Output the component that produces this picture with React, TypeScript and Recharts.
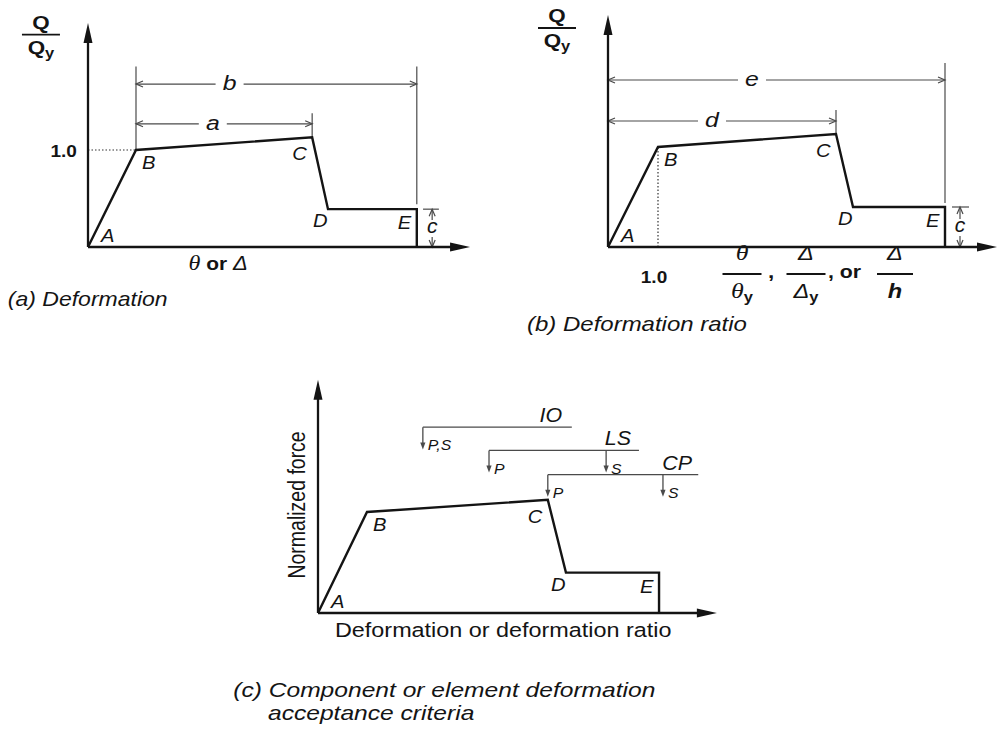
import React from 'react';
import { LineChart, Line, XAxis, YAxis, ReferenceLine, ReferenceDot } from 'recharts';

const SANS = '"Liberation Sans", Arial, Helvetica, sans-serif';
const SERIF = '"Liberation Serif", "Times New Roman", serif';
const INK = '#141414';
const DIM = '#4a4a4a';
const SX = 1.18;

// ---------------- data ----------------
const pointNames = ['A', 'B', 'C', 'D', 'E'];

const backboneA = [
  { x: 0, y: 0 }, { x: 1, y: 1 }, { x: 4.67, y: 1.13 }, { x: 5.0, y: 0.39 }, { x: 6.85, y: 0.39 }, { x: 6.85, y: 0 },
];
const backboneB = [
  { x: 0, y: 0 }, { x: 1, y: 1 }, { x: 4.56, y: 1.13 }, { x: 4.9, y: 0.4 }, { x: 6.74, y: 0.4 }, { x: 6.74, y: 0 },
];
const backboneC = [
  { x: 0, y: 0 }, { x: 1, y: 1 }, { x: 4.69, y: 1.12 }, { x: 5.06, y: 0.4 }, { x: 6.96, y: 0.4 }, { x: 6.96, y: 0 },
];

const dimsA = [
  { label: 'a', from: 1, to: 4.67, level: 1.27, at: 2.6 },
  { label: 'b', from: 1, to: 6.85, level: 1.68, at: 2.95 },
];
const dimsB = [
  { label: 'd', from: 0, to: 4.56, level: 1.26, at: 2.08 },
  { label: 'e', from: 0, to: 6.74, level: 1.67, at: 2.88 },
];
const extA = [
  { x: 1, from: 1, to: 1.86 },
  { x: 4.67, from: 1.13, to: 1.38 },
  { x: 6.85, from: 0.44, to: 1.86 },
];
const extB = [
  { x: 4.56, from: 1.13, to: 1.37 },
  { x: 6.74, from: 0.44, to: 1.84 },
];
const residualA = { x: 7.17, tickFrom: 6.98, tickTo: 7.31, level: 0.39 };
const residualB = { x: 7.04, tickFrom: 6.88, tickTo: 7.22, level: 0.4 };

const axisA = { x: 7.96, y: 2.31 };
const axisB = { x: 7.78, y: 2.32 };
const axisC = { x: 8.14, y: 2.31 };
const yieldValue = 1.0;

const limitNames = ['IO', 'LS', 'CP'];
const limitLevels = [1.84, 1.61, 1.37];
const limitFrom = [2.14, 3.49, 4.69];
const limitTo = [5.18, 6.55, 7.76];
const limitArrows = [
  [{ x: 2.14, tag: 'P,S' }],
  [{ x: 3.49, tag: 'P' }, { x: 5.88, tag: 'S' }],
  [{ x: 4.69, tag: 'P' }, { x: 7.04, tag: 'S' }],
];
const arrowDrop = 0.22;

// ---------------- layout ----------------
const BOX_A = { left: 0, top: 0, width: 490, height: 330, ox: 88, oy: 247, ux: 48, uy: 97 };
const BOX_B = { left: 495, top: 0, width: 503, height: 345, ox: 608, oy: 247, ux: 50, uy: 100 };
const BOX_C = { left: 200, top: 360, width: 560, height: 373, ox: 318, oy: 613, ux: 49, uy: 101 };
const LABEL_OFFSETS = [
  [13, -5], [6, 19], [-20, 23], [-15, 18], [-19, 20],
];

// ---------------- shapes ----------------
const axisShape = (p: any) => {
  const { x1, y1, x2, y2 } = p;
  const dx = x2 - x1, dy = y2 - y1;
  const L = Math.hypot(dx, dy) || 1;
  const ux = dx / L, uy = dy / L;
  const len = 20, hw = 4.5;
  const bx = x2 - ux * len, by = y2 - uy * len;
  return (
    <g>
      <line x1={x1} y1={y1} x2={bx + ux * 2} y2={by + uy * 2} stroke={INK} strokeWidth={2.3} />
      <polygon points={`${x2},${y2} ${bx - uy * hw},${by + ux * hw} ${bx + uy * hw},${by - ux * hw}`} fill={INK} />
    </g>
  );
};

const openHead = (x: number, y: number, dx: number, dy: number) => {
  const len = 7, hw = 3;
  const bx = x - dx * len, by = y - dy * len;
  return (
    <path d={`M${bx - dy * hw},${by + dx * hw} L${x},${y} L${bx + dy * hw},${by - dx * hw}`} fill="none" stroke={DIM} strokeWidth={1.2} />
  );
};

const dimShape = (label: string, t: number, gap: number) => (p: any) => {
  const { x1, y1, x2 } = p;
  const l = Math.min(x1, x2), r = Math.max(x1, x2);
  const cx = l + t * (r - l);
  return (
    <g>
      <line x1={l} y1={y1} x2={cx - gap / 2} y2={y1} stroke={DIM} strokeWidth={1.2} />
      <line x1={cx + gap / 2} y1={y1} x2={r} y2={y1} stroke={DIM} strokeWidth={1.2} />
      {openHead(l, y1, -1, 0)}
      {openHead(r, y1, 1, 0)}
      <text transform={`translate(${cx},${y1 + 6}) scale(${SX},1)`} textAnchor="middle" fontFamily={SANS} fontSize={21} fontStyle="italic" fill={INK}>{label}</text>
    </g>
  );
};

const residualShape = (p: any) => {
  const { x1, y1, y2 } = p;
  const top = Math.min(y1, y2), bot = Math.max(y1, y2);
  const mid = (top + bot) / 2;
  return (
    <g>
      <line x1={x1} y1={top} x2={x1} y2={mid - 8} stroke={DIM} strokeWidth={1.2} />
      <line x1={x1} y1={mid + 9} x2={x1} y2={bot} stroke={DIM} strokeWidth={1.2} />
      {openHead(x1, top, 0, -1)}
      {openHead(x1, bot, 0, 1)}
      <text transform={`translate(${x1},${mid + 5}) scale(1.05,1)`} textAnchor="middle" fontFamily={SANS} fontSize={20} fontStyle="italic" fill={INK}>c</text>
    </g>
  );
};

const thinLine = (p: any) => (
  <line x1={p.x1} y1={p.y1} x2={p.x2} y2={p.y2} stroke={DIM} strokeWidth={1.2} />
);

const dottedLine = (p: any) => (
  <line x1={p.x1} y1={p.y1} x2={p.x2} y2={p.y2} stroke="#333" strokeWidth={1.2} strokeDasharray="1.5 2" />
);

const limitShape = (name: string) => (p: any) => {
  const { x1, y1, x2, y2 } = p;
  const right = Math.max(x1, x2);
  return (
    <g>
      <line x1={x1} y1={y1} x2={x2} y2={y2} stroke={DIM} strokeWidth={1.3} />
      <text transform={`translate(${right - 21},${y1 - 5}) scale(1.02,1)`} textAnchor="middle" fontFamily={SANS} fontSize={21} fontStyle="italic" fill={INK}>{name}</text>
    </g>
  );
};

const dropShape = (tag: string) => (p: any) => {
  const { x1, y1, y2 } = p;
  const tip = Math.max(y1, y2), top = Math.min(y1, y2);
  return (
    <g>
      <line x1={x1} y1={top} x2={x1} y2={tip - 5} stroke={DIM} strokeWidth={1.3} />
      <polygon points={`${x1},${tip} ${x1 - 2.6},${tip - 7} ${x1 + 2.6},${tip - 7}`} fill={DIM} />
      <text transform={`translate(${x1 + 5},${tip + 1}) scale(1.02,1)`} fontFamily={SANS} fontSize={15.5} fontStyle="italic" fill={INK}>{tag}</text>
    </g>
  );
};

type TxtOpts = {
  dx?: number; dy?: number; size?: number; weight?: string | number; italic?: boolean;
  anchor?: 'start' | 'middle' | 'end'; family?: string; rotate?: boolean; sx?: number;
};
const txt = (content: React.ReactNode, o: TxtOpts = {}) => (p: any) => {
  const tx = p.cx + (o.dx || 0), ty = p.cy + (o.dy || 0);
  const s = o.sx ?? SX;
  const tr = o.rotate
    ? `translate(${tx},${ty}) scale(${s},1) rotate(-90)`
    : `translate(${tx},${ty}) scale(${s},1)`;
  return (
    <text transform={tr} x={0} y={0} textAnchor={o.anchor || 'start'} fontFamily={o.family || SANS}
      fontSize={o.size || 17} fontWeight={o.weight || 'normal'} fontStyle={o.italic ? 'italic' : 'normal'} fill={INK}>
      {content}
    </text>
  );
};

const frac = (num: React.ReactNode, den: React.ReactNode, w: number, up: number, down: number, size: number, family: string) => (p: any) => {
  const { cx, cy } = p;
  return (
    <g>
      <line x1={cx - w / 2} y1={cy} x2={cx + w / 2} y2={cy} stroke={INK} strokeWidth={1.8} />
      <text transform={`translate(${cx},${cy - up}) scale(${SX},1)`} textAnchor="middle" fontFamily={family} fontSize={size} fill={INK}>{num}</text>
      <text transform={`translate(${cx},${cy + down}) scale(${SX},1)`} textAnchor="middle" fontFamily={family} fontSize={size} fill={INK}>{den}</text>
    </g>
  );
};

const qFrac = frac(
  <tspan fontWeight="bold">Q</tspan>,
  <>
    <tspan fontWeight="bold">Q</tspan>
    <tspan fontWeight="bold" fontSize={14} dy={4}>y</tspan>
  </>,
  38, 6, 19, 19, SANS,
);

const pointLabels = (data: { x: number; y: number }[]) =>
  pointNames.map((n, i) => (
    <ReferenceDot key={`pl-${n}`} x={data[i].x} y={data[i].y} r={1} ifOverflow="visible"
      shape={txt(n, { dx: LABEL_OFFSETS[i][0], dy: LABEL_OFFSETS[i][1], italic: true, size: 18, sx: 1.12 })} />
  ));

type Box = typeof BOX_A;
function Panel({ box, children }: { box: Box; children: React.ReactNode }) {
  const xDomain = [-(box.ox - box.left) / box.ux, (box.left + box.width - box.ox) / box.ux];
  const yDomain = [-(box.top + box.height - box.oy) / box.uy, (box.oy - box.top) / box.uy];
  return (
    <div style={{ position: 'absolute', left: box.left, top: box.top }}>
      <LineChart width={box.width} height={box.height} margin={{ top: 0, right: 0, bottom: 0, left: 0 }}>
        <XAxis type="number" dataKey="x" domain={xDomain} hide allowDataOverflow />
        <YAxis type="number" dataKey="y" domain={yDomain} hide allowDataOverflow />
        {children}
      </LineChart>
    </div>
  );
}

const axes = (ax: { x: number; y: number }) => [
  <ReferenceLine key="ax-x" segment={[{ x: 0, y: 0 }, { x: ax.x, y: 0 }]} shape={axisShape} ifOverflow="visible" />,
  <ReferenceLine key="ax-y" segment={[{ x: 0, y: 0 }, { x: 0, y: ax.y }]} shape={axisShape} ifOverflow="visible" />,
];

const backboneLine = (data: { x: number; y: number }[]) => (
  <Line key="bb" data={data} dataKey="y" type="linear" stroke={INK} strokeWidth={2.4} dot={false} activeDot={false}
    isAnimationActive={false} strokeLinejoin="miter" />
);

const dims = (list: typeof dimsA) =>
  list.map((d) => (
    <ReferenceLine key={`dim-${d.label}`} segment={[{ x: d.from, y: d.level }, { x: d.to, y: d.level }]}
      shape={dimShape(d.label, (d.at - d.from) / (d.to - d.from), 28)} ifOverflow="visible" />
  ));

const exts = (list: typeof extA) =>
  list.map((e, i) => (
    <ReferenceLine key={`ext-${i}`} segment={[{ x: e.x, y: e.from }, { x: e.x, y: e.to }]} shape={thinLine} ifOverflow="visible" />
  ));

const residual = (r: typeof residualA) => [
  <ReferenceLine key="res-tick" segment={[{ x: r.tickFrom, y: r.level }, { x: r.tickTo, y: r.level }]} shape={thinLine} ifOverflow="visible" />,
  <ReferenceLine key="res-dim" segment={[{ x: r.x, y: r.level }, { x: r.x, y: 0 }]} shape={residualShape} ifOverflow="visible" />,
];

export default function App() {
  return (
    <div style={{ position: 'absolute', left: 0, top: 0, width: 998, height: 733, background: '#fff', overflow: 'hidden' }}>
      {/* (a) Deformation */}
      <Panel box={BOX_A}>
        {exts(extA)}
        {dims(dimsA)}
        {residual(residualA)}
        <ReferenceLine segment={[{ x: 0, y: yieldValue }, { x: 1, y: yieldValue }]} shape={dottedLine} ifOverflow="visible" />
        {axes(axisA)}
        {backboneLine(backboneA)}
        {pointLabels(backboneA)}
        <ReferenceDot x={-0.23} y={0.93} r={1} ifOverflow="visible" shape={txt('1.0', { anchor: 'end', weight: 'bold', size: 17, sx: 1.12 })} />
        <ReferenceDot x={-0.98} y={2.19} r={1} ifOverflow="visible" shape={qFrac} />
        <ReferenceDot x={2.71} y={-0.237} r={1} ifOverflow="visible"
          shape={txt(
            <>
              <tspan fontFamily={SERIF} fontStyle="italic" fontSize={22}>θ</tspan>
              <tspan fontWeight="bold"> or </tspan>
              <tspan fontStyle="italic" fontSize={20}>Δ</tspan>
            </>,
            { anchor: 'middle', size: 19, sx: 1.1 },
          )} />
        <ReferenceDot x={-1.67} y={-0.61} r={1} ifOverflow="visible" shape={txt('(a) Deformation', { italic: true, size: 20, sx: 1.15 })} />
      </Panel>

      {/* (b) Deformation ratio */}
      <Panel box={BOX_B}>
        {exts(extB)}
        {dims(dimsB)}
        {residual(residualB)}
        <ReferenceLine segment={[{ x: yieldValue, y: 0 }, { x: yieldValue, y: 1 }]} shape={dottedLine} ifOverflow="visible" />
        {axes(axisB)}
        {backboneLine(backboneB)}
        {pointLabels(backboneB)}
        <ReferenceDot x={-1.02} y={2.19} r={1} ifOverflow="visible" shape={qFrac} />
        <ReferenceDot x={0.92} y={-0.36} r={1} ifOverflow="visible" shape={txt('1.0', { anchor: 'middle', weight: 'bold', size: 17, sx: 1.12 })} />
        <ReferenceDot x={2.68} y={-0.27} r={1} ifOverflow="visible"
          shape={frac(
            <tspan fontFamily={SERIF} fontStyle="italic">θ</tspan>,
            <>
              <tspan fontFamily={SERIF} fontStyle="italic">θ</tspan>
              <tspan fontFamily={SANS} fontWeight="bold" fontSize={14} dy={4}>y</tspan>
            </>,
            39, 14, 24, 22, SERIF,
          )} />
        <ReferenceDot x={3.2} y={-0.31} r={1} ifOverflow="visible" shape={txt(',', { weight: 'bold', size: 19 })} />
        <ReferenceDot x={3.96} y={-0.27} r={1} ifOverflow="visible"
          shape={frac(
            <tspan fontFamily={SANS} fontStyle="italic">Δ</tspan>,
            <>
              <tspan fontFamily={SANS} fontStyle="italic">Δ</tspan>
              <tspan fontFamily={SANS} fontWeight="bold" fontSize={14} dy={4}>y</tspan>
            </>,
            39, 14, 24, 20, SANS,
          )} />
        <ReferenceDot x={4.4} y={-0.31} r={1} ifOverflow="visible" shape={txt(', or', { weight: 'bold', size: 19, sx: 1.12 })} />
        <ReferenceDot x={5.74} y={-0.27} r={1} ifOverflow="visible"
          shape={frac(
            <tspan fontFamily={SANS} fontStyle="italic">Δ</tspan>,
            <tspan fontFamily={SANS} fontStyle="italic" fontWeight="bold">h</tspan>,
            36, 14, 24, 20, SANS,
          )} />
        <ReferenceDot x={-1.62} y={-0.84} r={1} ifOverflow="visible" shape={txt('(b) Deformation ratio', { italic: true, size: 20, sx: 1.2 })} />
      </Panel>

      {/* (c) Acceptance criteria */}
      <Panel box={BOX_C}>
        {limitNames.map((n, i) => (
          <ReferenceLine key={`lim-${n}`} segment={[{ x: limitFrom[i], y: limitLevels[i] }, { x: limitTo[i], y: limitLevels[i] }]}
            shape={limitShape(n)} ifOverflow="visible" />
        ))}
        {limitArrows.map((arr, i) =>
          arr.map((a, j) => (
            <ReferenceLine key={`drop-${i}-${j}`} segment={[{ x: a.x, y: limitLevels[i] }, { x: a.x, y: limitLevels[i] - arrowDrop }]}
              shape={dropShape(a.tag)} ifOverflow="visible" />
          )),
        )}
        {axes(axisC)}
        {backboneLine(backboneC)}
        {pointLabels(backboneC)}
        <ReferenceDot x={-0.265} y={1.07} r={1} ifOverflow="visible" shape={txt('Normalized force', { anchor: 'middle', size: 19.5, rotate: true })} />
        <ReferenceDot x={3.78} y={-0.238} r={1} ifOverflow="visible" shape={txt('Deformation or deformation ratio', { anchor: 'middle', size: 19.5, sx: 1.2 })} />
        <ReferenceDot x={-1.73} y={-0.83} r={1} ifOverflow="visible" shape={txt('(c) Component or element deformation', { italic: true, size: 20.5, sx: 1.2 })} />
        <ReferenceDot x={-1.02} y={-1.06} r={1} ifOverflow="visible" shape={txt('acceptance criteria', { italic: true, size: 20.5, sx: 1.2 })} />
      </Panel>
    </div>
  );
}
